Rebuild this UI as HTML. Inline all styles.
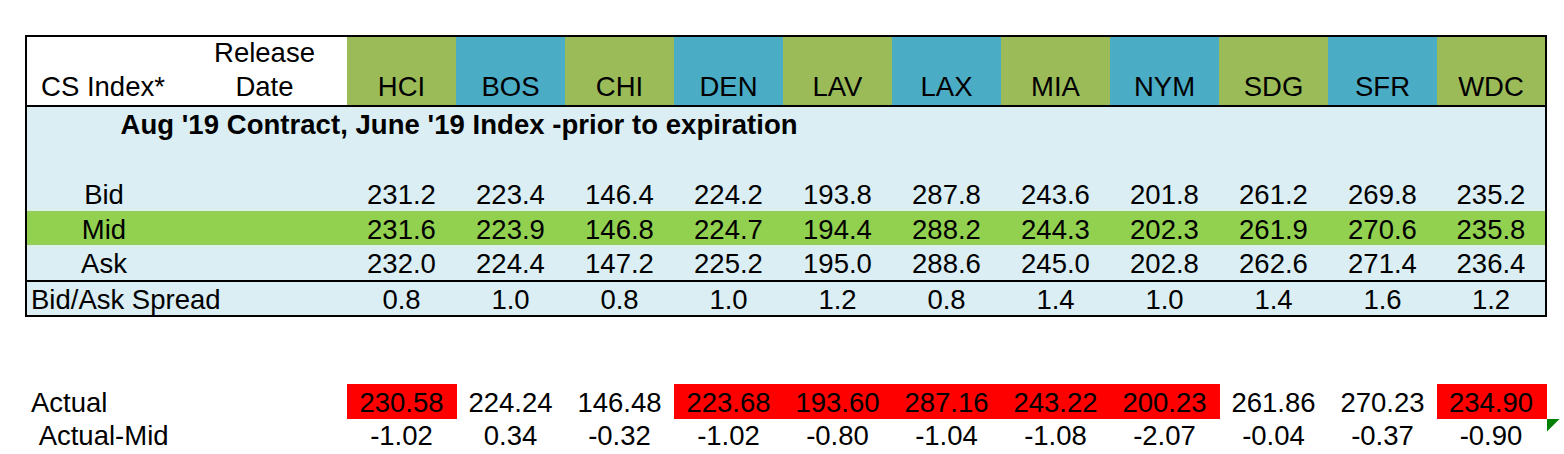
<!DOCTYPE html>
<html><head><meta charset="utf-8"><style>
html,body{margin:0;padding:0;background:#fff;width:1564px;height:454px;overflow:hidden;position:relative}
.r{position:absolute}
.t{position:absolute;font-family:"Liberation Sans",sans-serif;font-size:27.5px;line-height:30px;height:30px;white-space:nowrap;color:#000}
.c{text-align:center}
.b{font-weight:bold;letter-spacing:0.045px}
.s{transform:scaleY(1.037);transform-origin:50% 24px}
</style></head><body>
<div class="r" style="left:27px;top:107px;width:1518px;height:173px;background:#DAEEF3"></div>
<div class="r" style="left:27px;top:282px;width:1518px;height:33px;background:#DAEEF3"></div>
<div class="r" style="left:27px;top:211px;width:1518px;height:34px;background:#92D050"></div>
<div class="r" style="left:27px;top:210px;width:1518px;height:1px;background:#DCF4D6"></div>
<div class="r" style="left:27px;top:245px;width:1518px;height:1px;background:#DCF4D6"></div>
<div class="r" style="left:27px;top:211px;width:1518px;height:1px;background:#98C46C"></div>
<div class="r" style="left:27px;top:244px;width:1518px;height:1px;background:#98C46C"></div>
<div class="r" style="left:347px;top:37px;width:109px;height:68px;background:#9BBB59"></div>
<div class="r" style="left:456px;top:37px;width:109px;height:68px;background:#4BACC6"></div>
<div class="r" style="left:565px;top:37px;width:109px;height:68px;background:#9BBB59"></div>
<div class="r" style="left:674px;top:37px;width:109px;height:68px;background:#4BACC6"></div>
<div class="r" style="left:783px;top:37px;width:109px;height:68px;background:#9BBB59"></div>
<div class="r" style="left:892px;top:37px;width:109px;height:68px;background:#4BACC6"></div>
<div class="r" style="left:1001px;top:37px;width:109px;height:68px;background:#9BBB59"></div>
<div class="r" style="left:1110px;top:37px;width:109px;height:68px;background:#4BACC6"></div>
<div class="r" style="left:1219px;top:37px;width:109px;height:68px;background:#9BBB59"></div>
<div class="r" style="left:1328px;top:37px;width:109px;height:68px;background:#4BACC6"></div>
<div class="r" style="left:1437px;top:37px;width:108px;height:68px;background:#9BBB59"></div>
<div class="r" style="left:25px;top:35px;width:1522px;height:2px;background:#000"></div>
<div class="r" style="left:25px;top:315px;width:1522px;height:2px;background:#000"></div>
<div class="r" style="left:25px;top:35px;width:2px;height:282px;background:#000"></div>
<div class="r" style="left:1545px;top:35px;width:2px;height:282px;background:#000"></div>
<div class="r" style="left:25px;top:105px;width:1522px;height:2px;background:#000"></div>
<div class="r" style="left:25px;top:280px;width:1522px;height:2px;background:#000"></div>
<div class="r" style="left:347px;top:384px;width:110px;height:35px;background:#FF0000"></div>
<div class="r" style="left:674px;top:384px;width:110px;height:35px;background:#FF0000"></div>
<div class="r" style="left:783px;top:384px;width:110px;height:35px;background:#FF0000"></div>
<div class="r" style="left:892px;top:384px;width:110px;height:35px;background:#FF0000"></div>
<div class="r" style="left:1001px;top:384px;width:110px;height:35px;background:#FF0000"></div>
<div class="r" style="left:1110px;top:384px;width:110px;height:35px;background:#FF0000"></div>
<div class="r" style="left:1437px;top:384px;width:110px;height:35px;background:#FF0000"></div>
<div class="t c" style="left:114.5px;width:300px;top:38px">Release</div>
<div class="t c" style="left:-47.0px;width:300px;top:72px">CS Index*</div>
<div class="t c" style="left:114.5px;width:300px;top:72px">Date</div>
<div class="t s c" style="left:251.5px;width:300px;top:72px">HCI</div>
<div class="t s c" style="left:360.5px;width:300px;top:72px">BOS</div>
<div class="t s c" style="left:469.5px;width:300px;top:72px">CHI</div>
<div class="t s c" style="left:578.5px;width:300px;top:72px">DEN</div>
<div class="t s c" style="left:687.5px;width:300px;top:72px">LAV</div>
<div class="t s c" style="left:796.5px;width:300px;top:72px">LAX</div>
<div class="t s c" style="left:905.5px;width:300px;top:72px">MIA</div>
<div class="t s c" style="left:1014.5px;width:300px;top:72px">NYM</div>
<div class="t s c" style="left:1123.5px;width:300px;top:72px">SDG</div>
<div class="t s c" style="left:1232.5px;width:300px;top:72px">SFR</div>
<div class="t s c" style="left:1341.0px;width:300px;top:72px">WDC</div>
<div class="t b" style="left:120.5px;top:110px">Aug '19 Contract, June '19 Index -prior to expiration</div>
<div class="t c" style="left:-46.0px;width:300px;top:180px">Bid</div>
<div class="t c" style="left:-46.0px;width:300px;top:215px">Mid</div>
<div class="t c" style="left:-46.0px;width:300px;top:249px">Ask</div>
<div class="t s c" style="left:251.5px;width:300px;top:180px">231.2</div>
<div class="t s c" style="left:251.5px;width:300px;top:215px">231.6</div>
<div class="t s c" style="left:251.5px;width:300px;top:249px">232.0</div>
<div class="t s c" style="left:251.5px;width:300px;top:285px">0.8</div>
<div class="t s c" style="left:251.5px;width:300px;top:388px">230.58</div>
<div class="t s c" style="left:251.5px;width:300px;top:421px">-1.02</div>
<div class="t s c" style="left:360.5px;width:300px;top:180px">223.4</div>
<div class="t s c" style="left:360.5px;width:300px;top:215px">223.9</div>
<div class="t s c" style="left:360.5px;width:300px;top:249px">224.4</div>
<div class="t s c" style="left:360.5px;width:300px;top:285px">1.0</div>
<div class="t s c" style="left:360.5px;width:300px;top:388px">224.24</div>
<div class="t s c" style="left:360.5px;width:300px;top:421px">0.34</div>
<div class="t s c" style="left:469.5px;width:300px;top:180px">146.4</div>
<div class="t s c" style="left:469.5px;width:300px;top:215px">146.8</div>
<div class="t s c" style="left:469.5px;width:300px;top:249px">147.2</div>
<div class="t s c" style="left:469.5px;width:300px;top:285px">0.8</div>
<div class="t s c" style="left:469.5px;width:300px;top:388px">146.48</div>
<div class="t s c" style="left:469.5px;width:300px;top:421px">-0.32</div>
<div class="t s c" style="left:578.5px;width:300px;top:180px">224.2</div>
<div class="t s c" style="left:578.5px;width:300px;top:215px">224.7</div>
<div class="t s c" style="left:578.5px;width:300px;top:249px">225.2</div>
<div class="t s c" style="left:578.5px;width:300px;top:285px">1.0</div>
<div class="t s c" style="left:578.5px;width:300px;top:388px">223.68</div>
<div class="t s c" style="left:578.5px;width:300px;top:421px">-1.02</div>
<div class="t s c" style="left:687.5px;width:300px;top:180px">193.8</div>
<div class="t s c" style="left:687.5px;width:300px;top:215px">194.4</div>
<div class="t s c" style="left:687.5px;width:300px;top:249px">195.0</div>
<div class="t s c" style="left:687.5px;width:300px;top:285px">1.2</div>
<div class="t s c" style="left:687.5px;width:300px;top:388px">193.60</div>
<div class="t s c" style="left:687.5px;width:300px;top:421px">-0.80</div>
<div class="t s c" style="left:796.5px;width:300px;top:180px">287.8</div>
<div class="t s c" style="left:796.5px;width:300px;top:215px">288.2</div>
<div class="t s c" style="left:796.5px;width:300px;top:249px">288.6</div>
<div class="t s c" style="left:796.5px;width:300px;top:285px">0.8</div>
<div class="t s c" style="left:796.5px;width:300px;top:388px">287.16</div>
<div class="t s c" style="left:796.5px;width:300px;top:421px">-1.04</div>
<div class="t s c" style="left:905.5px;width:300px;top:180px">243.6</div>
<div class="t s c" style="left:905.5px;width:300px;top:215px">244.3</div>
<div class="t s c" style="left:905.5px;width:300px;top:249px">245.0</div>
<div class="t s c" style="left:905.5px;width:300px;top:285px">1.4</div>
<div class="t s c" style="left:905.5px;width:300px;top:388px">243.22</div>
<div class="t s c" style="left:905.5px;width:300px;top:421px">-1.08</div>
<div class="t s c" style="left:1014.5px;width:300px;top:180px">201.8</div>
<div class="t s c" style="left:1014.5px;width:300px;top:215px">202.3</div>
<div class="t s c" style="left:1014.5px;width:300px;top:249px">202.8</div>
<div class="t s c" style="left:1014.5px;width:300px;top:285px">1.0</div>
<div class="t s c" style="left:1014.5px;width:300px;top:388px">200.23</div>
<div class="t s c" style="left:1014.5px;width:300px;top:421px">-2.07</div>
<div class="t s c" style="left:1123.5px;width:300px;top:180px">261.2</div>
<div class="t s c" style="left:1123.5px;width:300px;top:215px">261.9</div>
<div class="t s c" style="left:1123.5px;width:300px;top:249px">262.6</div>
<div class="t s c" style="left:1123.5px;width:300px;top:285px">1.4</div>
<div class="t s c" style="left:1123.5px;width:300px;top:388px">261.86</div>
<div class="t s c" style="left:1123.5px;width:300px;top:421px">-0.04</div>
<div class="t s c" style="left:1232.5px;width:300px;top:180px">269.8</div>
<div class="t s c" style="left:1232.5px;width:300px;top:215px">270.6</div>
<div class="t s c" style="left:1232.5px;width:300px;top:249px">271.4</div>
<div class="t s c" style="left:1232.5px;width:300px;top:285px">1.6</div>
<div class="t s c" style="left:1232.5px;width:300px;top:388px">270.23</div>
<div class="t s c" style="left:1232.5px;width:300px;top:421px">-0.37</div>
<div class="t s c" style="left:1341.0px;width:300px;top:180px">235.2</div>
<div class="t s c" style="left:1341.0px;width:300px;top:215px">235.8</div>
<div class="t s c" style="left:1341.0px;width:300px;top:249px">236.4</div>
<div class="t s c" style="left:1341.0px;width:300px;top:285px">1.2</div>
<div class="t s c" style="left:1341.0px;width:300px;top:388px">234.90</div>
<div class="t s c" style="left:1341.0px;width:300px;top:421px">-0.90</div>
<div class="t" style="left:31px;top:285px">Bid/Ask Spread</div>
<div class="t" style="left:31px;top:388px">Actual</div>
<div class="t" style="left:31px;top:421px">&nbsp;Actual-Mid</div>
<svg class="r" style="left:1547px;top:419px" width="13" height="13"><polygon points="0,0 12.5,0 0,12.5" fill="#008000"/></svg>
</body></html>
